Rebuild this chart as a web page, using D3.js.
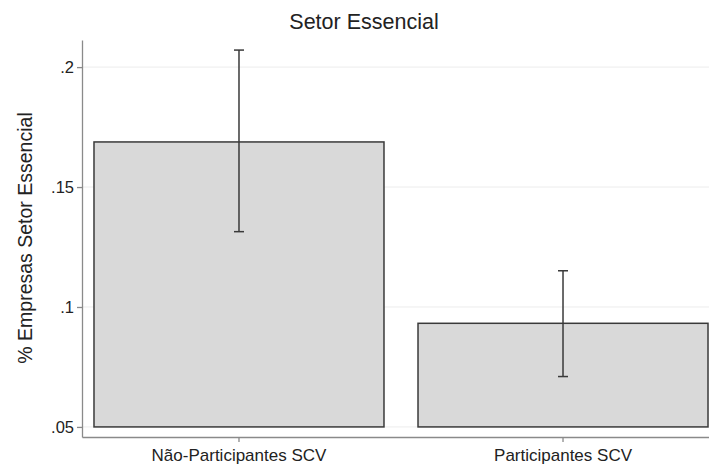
<!DOCTYPE html>
<html>
<head>
<meta charset="utf-8">
<script src="https://cdn.jsdelivr.net/npm/d3@7"></script>
<style>
  body { margin: 0; background: #fff; }
  svg { display: block; font-family: Arial, "Liberation Sans", sans-serif; }
</style>
</head>
<body>
<svg id="chart"></svg>
<script>
const categories = ['Não-Participantes SCV', 'Participantes SCV'];
const means = [0.1688, 0.0932];
const ciLow = [0.1314, 0.0710];
const ciHigh = [0.2071, 0.1151];
const yTicks = [0.05, 0.1, 0.15, 0.2];
const yTickLabels = ['.05', '.1', '.15', '.2'];

const width = 709;
const height = 473;
const baseline = 0.05;

const svg = d3.select('#chart')
    .attr('width', width)
    .attr('height', height);

const xScale = d3.scaleBand()
    .domain(categories)
    .range([82, 720])
    .paddingInner(0.105)
    .paddingOuter(0.037);

const yScale = d3.scaleLinear()
    .domain([0.0458, 0.2113])
    .range([437, 40]);

// grid lines
svg.append('g')
  .selectAll('line')
  .data(yTicks)
  .join('line')
    .attr('x1', 83)
    .attr('x2', width)
    .attr('y1', d => yScale(d))
    .attr('y2', d => yScale(d))
    .attr('stroke', '#ececec')
    .attr('stroke-width', 1);

// bars
svg.append('g')
  .selectAll('rect')
  .data(categories)
  .join('rect')
    .attr('x', d => xScale(d))
    .attr('width', xScale.bandwidth())
    .attr('y', (d, i) => yScale(means[i]))
    .attr('height', (d, i) => yScale(baseline) - yScale(means[i]))
    .attr('fill', '#d9d9d9')
    .attr('stroke', '#3a3a3a')
    .attr('stroke-width', 1.5);

// error bars
const cap = 5;
const ci = svg.append('g')
    .attr('stroke', '#3a3a3a')
    .attr('stroke-width', 1.5)
    .selectAll('g')
    .data(categories)
    .join('g')
      .attr('transform', d => `translate(${xScale(d) + xScale.bandwidth() / 2},0)`);
ci.append('line')
    .attr('y1', (d, i) => yScale(ciLow[i]))
    .attr('y2', (d, i) => yScale(ciHigh[i]));
ci.append('line')
    .attr('x1', -cap).attr('x2', cap)
    .attr('y1', (d, i) => yScale(ciLow[i]))
    .attr('y2', (d, i) => yScale(ciLow[i]));
ci.append('line')
    .attr('x1', -cap).attr('x2', cap)
    .attr('y1', (d, i) => yScale(ciHigh[i]))
    .attr('y2', (d, i) => yScale(ciHigh[i]));

// y axis
const yAxis = d3.axisLeft(yScale)
    .tickValues(yTicks)
    .tickFormat((d, i) => yTickLabels[i])
    .tickSize(5)
    .tickSizeOuter(0)
    .tickPadding(3);

svg.append('g')
    .attr('transform', 'translate(82,0)')
    .call(yAxis)
    .call(g => g.selectAll('.domain, .tick line').attr('stroke', '#8a8a8a').attr('stroke-width', 1.3))
    .call(g => g.selectAll('.tick text')
      .attr('fill', '#222')
      .attr('font-size', 16.5)
      .attr('font-family', 'Arial, "Liberation Sans", sans-serif'));

// x axis
const xAxis = d3.axisBottom(xScale)
    .tickSize(5)
    .tickSizeOuter(0)
    .tickPadding(7);

svg.append('g')
    .attr('transform', 'translate(0,437)')
    .call(xAxis)
    .call(g => g.selectAll('.domain, .tick line').attr('stroke', '#8a8a8a').attr('stroke-width', 1.3))
    .call(g => g.selectAll('.tick text')
      .attr('fill', '#222')
      .attr('font-size', 17)
      .attr('font-family', 'Arial, "Liberation Sans", sans-serif'));

// y axis title
svg.append('text')
    .attr('transform', 'translate(32,238) rotate(-90)')
    .attr('text-anchor', 'middle')
    .attr('font-size', 19.5)
    .attr('fill', '#222')
    .text('% Empresas Setor Essencial');

// title
svg.append('text')
    .attr('x', 364)
    .attr('y', 29)
    .attr('text-anchor', 'middle')
    .attr('font-size', 21.5)
    .attr('fill', '#222')
    .text('Setor Essencial');
</script>
</body>
</html>
